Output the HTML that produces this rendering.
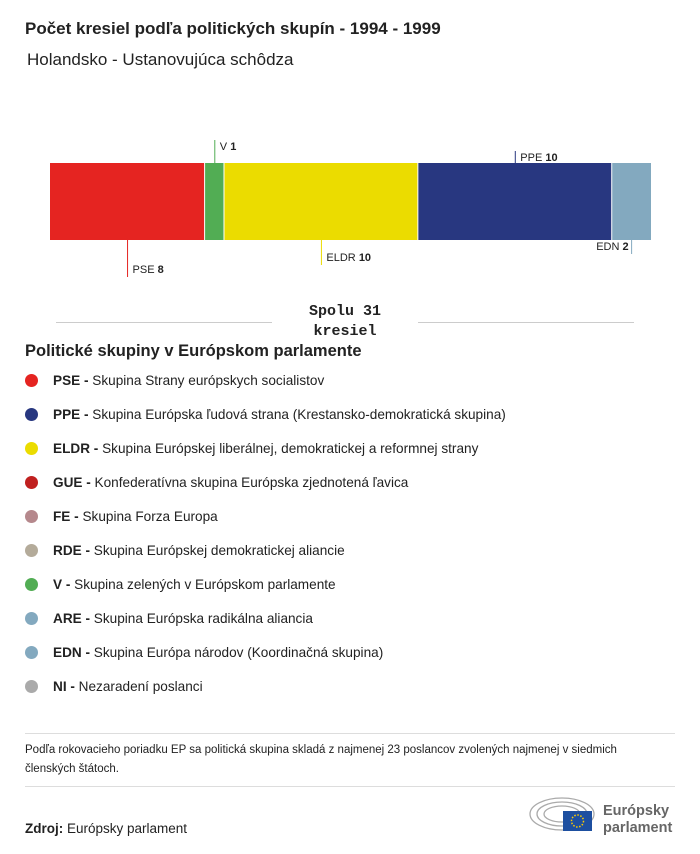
<!DOCTYPE html>
<html><head><meta charset="utf-8"><style>
body{margin:0;width:700px;height:854px;background:#fff;font-family:"Liberation Sans",sans-serif;color:#222;position:relative;overflow:hidden}
.a{position:absolute;white-space:nowrap}
.leg{position:absolute;left:25px;font-size:13.6px;display:flex;align-items:center}
.dot{width:13px;height:13px;border-radius:50%;margin-right:15px}
</style></head><body>
<div class="a" style="left:25px;top:19px;font-size:17px;font-weight:bold">Počet kresiel podľa politických skupín - 1994 - 1999</div>
<div class="a" style="left:27px;top:50px;font-size:17px">Holandsko - Ustanovujúca schôdza</div>
<svg id="chart" width="700" height="300" style="position:absolute;left:0;top:0"></svg>
<div style="position:absolute;left:56px;top:322px;width:216px;height:1px;background:#ccc"></div>
<div style="position:absolute;left:418px;top:322px;width:216px;height:1px;background:#ccc"></div>
<div class="a" style="left:272px;top:302px;width:146px;text-align:center;font-family:'Liberation Mono',monospace;font-weight:bold;font-size:15px;line-height:20px;white-space:normal">Spolu 31<br>kresiel</div>
<div class="a" style="left:25px;top:342px;font-size:16.5px;font-weight:bold">Politické skupiny v Európskom parlamente</div>
<div id="legend"></div>
<div style="position:absolute;left:25px;top:733px;width:650px;height:1px;background:#ddd"></div>
<div class="a" style="left:25px;top:741px;font-size:11.5px;line-height:19px;white-space:normal;width:640px">Podľa rokovacieho poriadku EP sa politická skupina skladá z najmenej 23 poslancov zvolených najmenej v siedmich členských štátoch.</div>
<div style="position:absolute;left:25px;top:786px;width:650px;height:1px;background:#ddd"></div>
<div class="a" style="left:25px;top:821px;font-size:13.5px"><b>Zdroj:</b> Európsky parlament</div>
<svg width="150" height="44" style="position:absolute;left:528px;top:795px">
<g fill="none" stroke="#aaa" stroke-width="1.3"><ellipse cx="34" cy="19" rx="32" ry="16"/><ellipse cx="34" cy="19" rx="25" ry="12"/><ellipse cx="34" cy="19" rx="18" ry="8"/></g>
<rect x="35" y="16" width="29" height="20" fill="#1d4fa0"/><circle cx="49.5" cy="26" r="6" fill="none" stroke="#fc0" stroke-width="1.5" stroke-dasharray="1.5 1.6"/>
<text x="75" y="20" font-size="14.5" font-weight="bold" fill="#666" font-family="Liberation Sans">Európsky</text>
<text x="75" y="37" font-size="14.5" font-weight="bold" fill="#666" font-family="Liberation Sans">parlament</text></svg>
<script>
const groups=["PSE","V","ELDR","PPE","EDN"];
const seats=[8,1,10,10,2];
const colors=["#e52421","#52ad54","#ebdc00","#283780","#83a9bf"];
const labelSide=["below","above","below","above","below"];
const labelLen=[37,23,25,12,14];
const legCodes=["PSE","PPE","ELDR","GUE","FE","RDE","V","ARE","EDN","NI"];
const legNames=["Skupina Strany európskych socialistov","Skupina Európska ľudová strana (Krestansko-demokratická skupina)","Skupina Európskej liberálnej, demokratickej a reformnej strany","Konfederatívna skupina Európska zjednotená ľavica","Skupina Forza Europa","Skupina Európskej demokratickej aliancie","Skupina zelených v Európskom parlamente","Skupina Európska radikálna aliancia","Skupina Európa národov (Koordinačná skupina)","Nezaradení poslanci"];
const legColors=["#e52421","#283780","#ebdc00","#c0201f","#b5888c","#b4ab9a","#52ad54","#83a9bf","#83a9bf","#aaa"];
const svg=document.getElementById('chart');const NS="http://www.w3.org/2000/svg";
const total=seats.reduce((a,b)=>a+b,0);const x0=50,x1=651,y0=163,y1=240;
const sx=v=>x0+(x1-x0)*v/total;
let cum=0;
groups.forEach((g,i)=>{
 const a=sx(cum),b=sx(cum+seats[i]);cum+=seats[i];
 const r=document.createElementNS(NS,'rect');
 
 
 r.setAttribute('x',a);r.setAttribute('y',y0);r.setAttribute('width',b-a-(i<groups.length-1?1:0));r.setAttribute('height',y1-y0);r.setAttribute('fill',colors[i]);svg.appendChild(r);
 const m=(a+b)/2,L=labelLen[i];
 const ln=document.createElementNS(NS,'line');
 
 
 const ya=labelSide[i]=='above'?y0-L:y1, yb=labelSide[i]=='above'?y0:y1+L;
 ln.setAttribute('x1',m);ln.setAttribute('x2',m);ln.setAttribute('y1',ya);ln.setAttribute('y2',yb);ln.setAttribute('stroke',colors[i]);svg.appendChild(ln);
 const t=document.createElementNS(NS,'text');
 
 
 const right=(i==groups.length-1);
 t.setAttribute('x',right?m-3:m+5);t.setAttribute('text-anchor',right?'end':'start');
 t.setAttribute('y',labelSide[i]=='above'?ya+10:yb-4);
 t.setAttribute('font-size','11');t.setAttribute('font-family','Liberation Sans');t.setAttribute('fill','#222');
 t.innerHTML=g+' <tspan font-weight="bold">'+seats[i]+'</tspan>';svg.appendChild(t);
});
const lg=document.getElementById('legend');
legCodes.forEach((c,i)=>{
 const d=document.createElement('div');d.className='leg';d.style.top=(373+i*34)+'px';
 
 
 d.innerHTML='<span class="dot" style="background:'+legColors[i]+'"></span><span><b>'+c+' -</b> '+legNames[i]+'</span>';
 lg.appendChild(d);
});
</script>
</body></html>
